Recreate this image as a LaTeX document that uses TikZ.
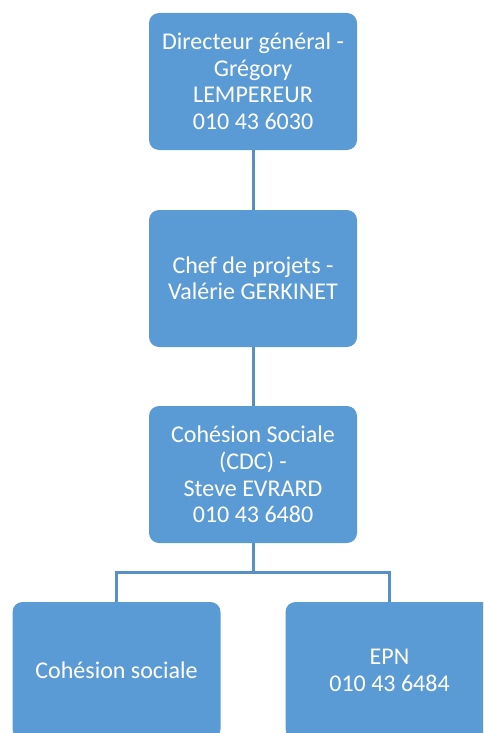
\documentclass[tikz,border=0pt]{standalone}
\usepackage{fontspec}
\setmainfont{Carlito}
\definecolor{boxblue}{HTML}{5B9BD5}
\definecolor{lineblue}{HTML}{5790C6}
\tikzset{
  orgbox/.style={rectangle, rounded corners=10pt, fill=boxblue, text=white,
    minimum width=208pt, minimum height=137pt, align=center, inner sep=2pt,
    font=\fontsize{24}{26.5}\selectfont},
  orgline/.style={draw=lineblue, line width=3pt}
}

\begin{document}
\begin{tikzpicture}[x=1pt, y=-1pt]
        \useasboundingbox (0,0) rectangle (483,733);
        \clip (0,0) rectangle (483,733);

        \node[orgbox] (dg) at (253, 81.5) {Directeur général -\\Grégory\\LEMPEREUR\\010 43 6030};
        \node[orgbox] (cp) at (253, 278.5) {Chef de projets -\\Valérie GERKINET};
        \node[orgbox] (cs) at (253, 474.5) {Cohésion Sociale\\(CDC) -\\Steve EVRARD\\010 43 6480};

        \node[orgbox] (soc) at (116.5, 670.5) {Cohésion sociale};
        \node[orgbox] (epn) at (389.5, 670.5) {EPN\\010 43 6484};

        \coordinate (split) at (253, 572);

        \draw[orgline] (dg) -- (cp);
        \draw[orgline] (cp) -- (cs);
        \draw[orgline] (cs) -- (split);
        \draw[orgline] (split) -| (soc);
        \draw[orgline] (split) -| (epn);
    \end{tikzpicture}
\end{document}
